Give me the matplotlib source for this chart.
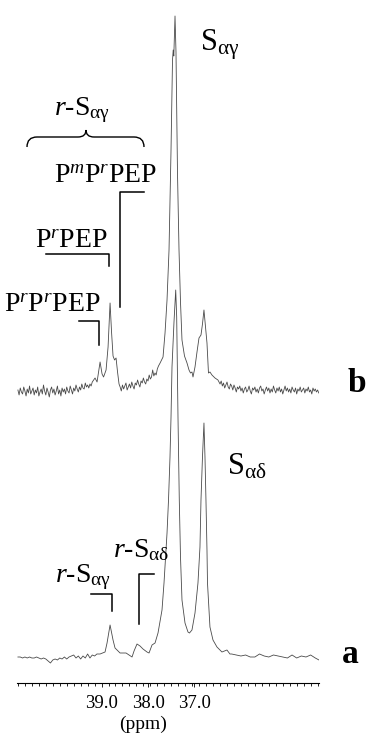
import numpy as np
import matplotlib.pyplot as plt
from matplotlib.path import Path
from matplotlib.patches import PathPatch
from matplotlib.lines import Line2D
from matplotlib.ticker import MultipleLocator

plt.rcParams['font.family'] = ['Liberation Serif', 'DejaVu Serif']
plt.rcParams['mathtext.fontset'] = 'custom'
plt.rcParams['mathtext.rm'] = 'Liberation Serif'
plt.rcParams['mathtext.it'] = 'Liberation Serif:italic'
plt.rcParams['mathtext.bf'] = 'Liberation Serif:bold'

# spectrum b (upper trace), intensity in arbitrary units
b_ppm = [40.800, 40.775, 40.750, 40.725, 40.700, 40.675, 40.650, 40.625, 40.600, 40.575,
         40.550, 40.525, 40.500, 40.475, 40.450, 40.425, 40.400, 40.375, 40.350, 40.325,
         40.300, 40.275, 40.250, 40.225, 40.200, 40.175, 40.150, 40.125, 40.100, 40.075,
         40.050, 40.025, 40.000, 39.975, 39.950, 39.925, 39.900, 39.875, 39.850, 39.825,
         39.800, 39.775, 39.750, 39.725, 39.700, 39.675, 39.650, 39.625, 39.600, 39.575,
         39.550, 39.525, 39.500, 39.475, 39.450, 39.425, 39.400, 39.375, 39.350, 39.325,
         39.300, 39.275, 39.250, 39.225, 39.200,
         39.140, 39.097, 39.032, 38.989, 38.957, 38.903, 38.860, 38.817, 38.785, 38.753,
         38.720, 38.688, 38.656, 38.624,
         38.600, 38.575, 38.550, 38.525, 38.500, 38.475, 38.450, 38.425, 38.400, 38.375,
         38.350, 38.325, 38.300, 38.275, 38.250, 38.225, 38.200, 38.175, 38.150, 38.125,
         38.100, 38.075, 38.050, 38.025, 38.000, 37.975, 37.950, 37.925, 37.900, 37.875,
         37.850, 37.825, 37.800, 37.775,
         37.740, 37.677, 37.634, 37.591, 37.548, 37.505, 37.473, 37.458, 37.445, 37.419,
         37.398, 37.366, 37.333, 37.301, 37.269, 37.215, 37.161, 37.118, 37.086, 37.054,
         37.032, 36.989, 36.946, 36.903, 36.860, 36.828, 36.796, 36.763, 36.731, 36.699,
         36.667, 36.624, 36.559, 36.495,
         36.450, 36.425, 36.400, 36.375, 36.350, 36.325, 36.300, 36.275, 36.250, 36.225,
         36.200, 36.175, 36.150, 36.125, 36.100, 36.075, 36.050, 36.025, 36.000, 35.975,
         35.950, 35.925, 35.900, 35.875, 35.850, 35.825, 35.800, 35.775, 35.750, 35.725,
         35.700, 35.675, 35.650, 35.625, 35.600, 35.575, 35.550, 35.525, 35.500, 35.475,
         35.450, 35.425, 35.400, 35.375, 35.350, 35.325, 35.300, 35.275, 35.250, 35.225,
         35.200, 35.175, 35.150, 35.125, 35.100, 35.075, 35.050, 35.025, 35.000, 34.975,
         34.950, 34.925, 34.900, 34.875, 34.850, 34.825, 34.800, 34.775, 34.750, 34.725,
         34.700, 34.675, 34.650, 34.625, 34.600, 34.575, 34.550, 34.525, 34.500, 34.475,
         34.450, 34.425, 34.400, 34.375, 34.350, 34.325]
b_int = [2, -3, 4, 0, -2, 5, 1, -4, 3, -1,
         6, -2, 1, 4, -3, 2, -1, 5, -4, 0,
         3, -2, 7, 1, -3, 4, 0, -5, 2, 5,
         -1, 3, -3, 1, 6, -2, 2, -4, 4, 0,
         3, -2, 5, 1, -1, 6, 2, -2, 4, 1,
         7, 3, 0, 5, 2, 8, 4, 3, 9, 5,
         7, 4, 8, 6, 10,
         14, 10, 30, 18, 15, 22, 45, 89, 60, 36,
         32, 34, 20, 8,
         5, 1, 7, 3, 6, 9, 2, 5, 8, 4,
         10, 6, 3, 9, 7, 12, 8, 5, 11, 9,
         14, 10, 8, 13, 11, 17, 13, 15, 22, 16,
         19, 17, 23, 26,
         29, 35, 59, 92, 142, 242, 332, 342, 336, 376,
         340, 220, 142, 90, 52, 36, 29, 22, 19, 20,
         15, 25, 40, 54, 57, 68, 82, 65, 49, 19,
         20, 17, 14, 12,
         8, 11, 6, 9, 4, 7, 10, 5, 3, 8,
         6, 2, 7, 4, 0, 5, 3, 6, 1, 4,
         -1, 3, 5, 0, 2, 6, 1, -2, 4, 2,
         5, 0, 3, -1, 4, 6, 1, 3, -2, 2,
         5, 1, 4, -1, 3, 0, 6, 2, -1, 4,
         1, 5, 0, 3, -2, 2, 6, 1, 4, 0,
         3, -1, 5, 2, 0, 4, -2, 3, 1, 5,
         0, 2, 4, -1, 3, 1, 5, 0, 2, -2,
         4, 1, 3, 0, 2, -1]

# spectrum a (lower trace)
a_ppm = [40.80, 40.75, 40.70, 40.65, 40.60, 40.55, 40.50, 40.45, 40.40, 40.35,
         40.30, 40.25, 40.20, 40.15, 40.10, 40.05, 40.00, 39.95, 39.90, 39.85,
         39.80, 39.75, 39.70, 39.65, 39.60, 39.55, 39.50, 39.45, 39.40, 39.35,
         39.30, 39.25, 39.20, 39.15, 39.10,
         39.032, 38.925, 38.882, 38.817, 38.753, 38.710, 38.602, 38.473, 38.344, 38.301,
         38.237, 38.172, 38.108, 38.022, 37.978, 37.914, 37.849, 37.785, 37.699, 37.656,
         37.591, 37.559, 37.527, 37.505, 37.484, 37.441, 37.404, 37.383, 37.355, 37.327,
         37.301, 37.269, 37.204, 37.140, 37.108, 37.054, 36.989, 36.925, 36.882, 36.860,
         36.828, 36.796, 36.774, 36.753, 36.731, 36.720, 36.667, 36.602, 36.516, 36.409,
         36.301, 36.237,
         36.20, 36.10, 36.00, 35.90, 35.80, 35.70, 35.60, 35.50, 35.40, 35.30,
         35.20, 35.10, 35.00, 34.90, 34.80, 34.70, 34.60, 34.50, 34.40, 34.32]
a_int = [0, 0, -1, 0, -1, 0, -1, -1, 0, -1,
         -2, -1, -2, -4, -6, -3, -2, -3, -1, -2,
         0, -2, 0, 1, 2, -1, 1, -2, 1, -1,
         3, -1, 2, 1, 3,
         3, 5, 14, 32, 17, 9, 4, 4, 0, 6,
         13, 11, 8, 5, 4, 12, 14, 24, 47, 74,
         124, 157, 200, 240, 290, 335, 367, 340, 240, 157,
         100, 57, 34, 25, 24, 27, 44, 74, 110, 157,
         200, 234, 200, 157, 107, 74, 30, 17, 10, 5,
         7, 3,
         3, 2, 1, 2, 0, 0, 3, 1, 0, 2,
         1, 0, -1, 2, -1, 1, 0, 2, -1, -3]

B_OFFSET = 265
tick_pos = [39.0, 38.0, 37.0]
tick_lab = ['39.0', '38.0', '37.0']

W, H = 367, 736


def px(x, y):
    # pixel position (from top-left) to figure fraction
    return x / W, 1 - y / H


fig = plt.figure(figsize=(W / 100, H / 100), dpi=100)
ax = fig.add_axes([17 / W, 53 / H, 302 / W, 673 / H])
ax.plot(a_ppm, a_int, color='#4a4a4a', lw=0.6)
ax.plot(b_ppm, np.array(b_int) + B_OFFSET, color='#4a4a4a', lw=0.6)
ax.set_xlim(40.82, 34.32)
ax.set_ylim(-26, 647)
for s in ['left', 'right', 'top']:
    ax.spines[s].set_visible(False)
ax.spines['bottom'].set_linewidth(0.8)
ax.set_yticks([])
ax.set_xticks(tick_pos)
ax.set_xticklabels(tick_lab, fontsize=13.5)
ax.xaxis.set_minor_locator(MultipleLocator(0.15))
ax.tick_params(axis='x', which='major', length=3, width=0.6, pad=5.5)
ax.tick_params(axis='x', which='minor', length=2.5, width=0.6)
fig.text(*px(143, 729), '(ppm)', fontsize=14, ha='center', va='baseline')

# labels
fig.text(*px(200, 50), r'S$_{\mathrm{αγ}}$', fontsize=22, va='baseline')
fig.text(*px(82, 115), r'$r$-S$_{\mathrm{αγ}}$', fontsize=20, va='baseline', ha='center')
fig.text(*px(157, 183), r'P$^{m}$P$^{r}$PEP', fontsize=20, va='baseline', ha='right')
fig.text(*px(108, 248), r'P$^{r}$PEP', fontsize=20, va='baseline', ha='right')
fig.text(*px(100, 312), r'P$^{r}$P$^{r}$PEP', fontsize=20, va='baseline', ha='right')
fig.text(*px(357, 392), 'b', fontsize=24, fontweight='bold', va='baseline', ha='center')
fig.text(*px(227, 475), r'S$_{\mathrm{αδ}}$', fontsize=22, va='baseline')
fig.text(*px(113, 557), r'$r$-S$_{\mathrm{αδ}}$', fontsize=20, va='baseline')
fig.text(*px(55, 582), r'$r$-S$_{\mathrm{αγ}}$', fontsize=20, va='baseline')
fig.text(*px(350, 663), 'a', fontsize=24, fontweight='bold', va='baseline', ha='center')

# bracket markers
brackets = [
    [(144, 192), (120, 192), (120, 307)],
    [(46, 254), (109, 254), (109, 266)],
    [(79, 321), (99, 321), (99, 345)],
    [(91, 594), (112, 594), (112, 611)],
    [(154, 574), (139, 574), (139, 624)],
]
for pts in brackets:
    xs, ys = zip(*[px(x, y) for x, y in pts])
    fig.add_artist(Line2D(xs, ys, color='black', lw=1.1, transform=fig.transFigure))

# curly brace over r-S peaks
brace = [(27, 147), (27, 137), (37, 137), (78, 137), (86, 137), (86, 130),
         (86, 137), (94, 137), (134, 137), (144, 137), (144, 147)]
codes = [Path.MOVETO, Path.CURVE3, Path.CURVE3, Path.LINETO, Path.CURVE3, Path.CURVE3,
         Path.CURVE3, Path.CURVE3, Path.LINETO, Path.CURVE3, Path.CURVE3]
fig.add_artist(PathPatch(Path([px(x, y) for x, y in brace], codes), fill=False,
                         color='black', lw=1.0, transform=fig.transFigure))

fig.savefig('out.png', dpi=100)
